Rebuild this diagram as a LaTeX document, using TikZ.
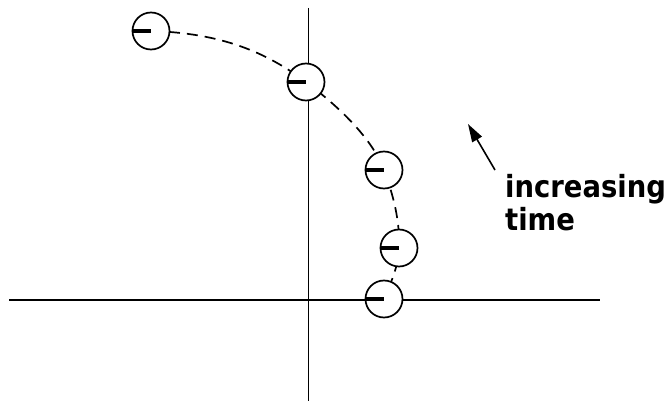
\documentclass[tikz,border=0pt]{standalone}
\usepackage{fontspec}
\setmainfont{DejaVu Sans}
\newfontfamily\labfont{DejaVu Sans Condensed}
\usetikzlibrary{arrows.meta}
\tikzset{
  axis/.style={black, line width=1.1pt},
  vaxis/.style={black, line width=0.8pt},
  pathcurve/.style={black, line width=1.7pt, dash pattern=on 11pt off 7pt},
  ball/.style={circle, draw=black, fill=white, line width=1.7pt, minimum size=37pt, inner sep=0pt},
  bar/.style={black, line width=3.4pt},
  label/.style={font=\labfont\bfseries\fontsize{30.5}{33}\selectfont, inner sep=0pt, anchor=base west},
  timearrow/.style={black, line width=1.6pt, -{Triangle[length=18pt,width=11pt]}}
}
\begin{document}
\begin{tikzpicture}[x=1pt,y=-1pt]
\useasboundingbox (0,0) rectangle (670,401);
% axes
\coordinate (hl) at (9,300);
\coordinate (hr) at (600,300);
\coordinate (vt) at (308,8);
\coordinate (vb) at (308,401);
\draw[axis] (hl) -- (hr);
\draw[vaxis] (vt) -- (vb);
% dashed trajectory
\coordinate (p1) at (151,31);
\coordinate (p2) at (306,82);
\coordinate (p3) at (384,170);
\coordinate (p4) at (399,248);
\coordinate (p5) at (384,299);
\draw[pathcurve] (p1) .. controls (221,33) and (266,52) .. (p2)
  .. controls (338,106) and (372,138) .. (p3)
  .. controls (394,197) and (400,222) .. (p4)
  .. controls (399,265) and (390,285) .. (p5);
% balls with bars
\foreach \n in {1,...,5} {
  \node[ball] (b\n) at (p\n) {};
  \draw[bar] (b\n.west) -- (b\n.center);
}
% arrow and label
\coordinate (at) at (495,170);
\coordinate (ah) at (468,124);
\draw[timearrow] (at) -- (ah);
\node[label] (t1) at (505,197) {increasing};
\node[label] (t2) at (505,230) {time};
\end{tikzpicture}
\end{document}
